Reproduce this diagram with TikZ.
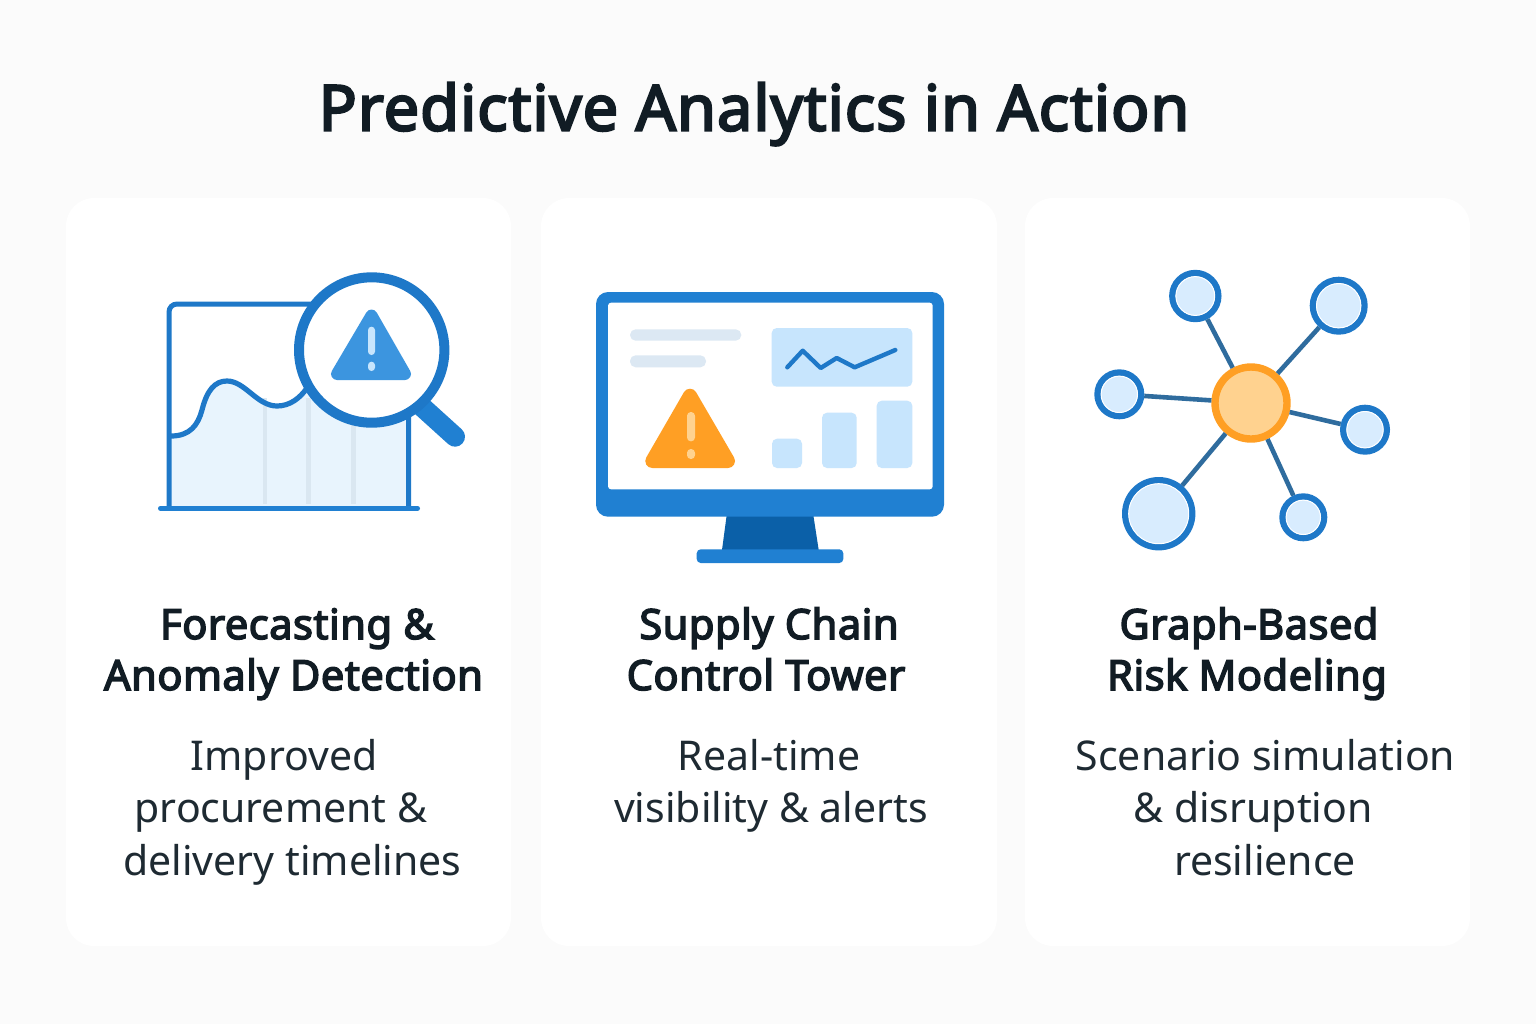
\documentclass[tikz,border=0pt]{standalone}
\usepackage{fontspec}
\setmainfont{Noto Sans}
\newfontfamily\titlefont{Noto Sans}[FakeBold=3.6,LetterSpace=1.5]
\newfontfamily\headfont{Noto Sans}[FakeBold=3.6,LetterSpace=1.2]
\definecolor{bgc}{HTML}{FBFBFB}
\definecolor{inkc}{HTML}{111C24}
\definecolor{bodyc}{HTML}{1E2A32}
\definecolor{bluec}{HTML}{2080D2}
\definecolor{lineblue}{HTML}{1E78C8}
\definecolor{darkblue}{HTML}{0B60A8}
\definecolor{midblue}{HTML}{3C95DF}
\definecolor{paleblue}{HTML}{C7E5FD}
\definecolor{areablue}{HTML}{E8F4FD}
\definecolor{gridc}{HTML}{DAE7F1}
\definecolor{barc}{HTML}{DCE8F3}
\definecolor{orangec}{HTML}{FF9F24}
\definecolor{paleorange}{HTML}{FFD28F}
\definecolor{edgec}{HTML}{2F6C9E}
\definecolor{nodefill}{HTML}{D8ECFE}
\tikzset{
  cardbox/.style={fill=white,rounded corners=14pt},
  titletext/.style={anchor=base,inner sep=0pt,text=inkc,font=\fontsize{31.6}{38}\titlefont},
  headtext/.style={anchor=base,inner sep=0pt,text=inkc,font=\fontsize{20.8}{25}\headfont},
  bodytext/.style={anchor=base,inner sep=0pt,text=bodyc,font=\fontsize{20.5}{25}\selectfont},
  leaf/.style={circle,inner sep=0pt,draw=lineblue,fill=nodefill,line width=3.2pt,minimum size=#1},
  hub/.style={circle,inner sep=0pt,draw=orangec,fill=paleorange,line width=3.7pt,minimum size=36pt},
  link/.style={draw=edgec,line width=2.3pt}
}
\begin{document}
\begin{tikzpicture}[x=0.5pt,y=-0.5pt]
\useasboundingbox (0,0) rectangle (1536,1024);
\fill[bgc] (0,0) rectangle (1536,1024);
% cards
\fill[cardbox] (66,198) rectangle (511,946);
\fill[cardbox] (541,198) rectangle (997,946);
\fill[cardbox] (1025,198) rectangle (1470,946);
% title
\node[titletext] (title) at (754,130.5) {Predictive Analytics in Action};

% --- icon 1: chart and magnifier
\fill[areablue] (171,436) .. controls (190,436) and (198,425) .. (202,410)
  .. controls (207,390) and (215,381) .. (227,381)
  .. controls (245,381) and (257,406) .. (277,406)
  .. controls (290,406) and (300,398) .. (307,388)
  -- (408,388) -- (408,506) -- (171,506) -- cycle;
\foreach \gx in {265,308.5,353.5}
  \draw[gridc,line width=2.2pt] (\gx,398) -- (\gx,504);
\draw[lineblue,line width=2.5pt,rounded corners=4pt] (408.7,508) -- (408.7,304) -- (169,304) -- (169,508);
\draw[lineblue,line width=2.6pt] (171,436) .. controls (190,436) and (198,425) .. (202,410)
  .. controls (207,390) and (215,381) .. (227,381)
  .. controls (245,381) and (257,406) .. (277,406)
  .. controls (290,406) and (300,398) .. (307,388);
\draw[bluec,line width=2.5pt,line cap=round] (160.5,508.3) -- (417.5,508.3);
\draw[bluec,line width=10pt,line cap=round] (420,405) -- (455,436.7);
\draw[lineblue,fill=white,line width=5pt] (371.7,350) circle (72.7);
\fill[midblue,draw=midblue,line width=6pt,line join=round] (371.5,315.5) -- (405,374) -- (337,374) -- cycle;
\fill[paleblue,rounded corners=1.7pt] (368,326.7) rectangle (375,355);
\fill[paleblue,rounded corners=1.7pt] (368,361.7) rectangle (375,371);

% --- icon 2: monitor
\fill[darkblue] (726.7,515) -- (813.3,515) -- (818.7,550) -- (722,550) -- cycle;
\fill[bluec,rounded corners=2pt] (696.7,563) -- (696.7,549.3) -- (843.3,549.3) -- (843.3,563) -- cycle;
\fill[bluec,rounded corners=6pt] (596,292) rectangle (944,516.7);
\fill[white,rounded corners=1.5pt] (608,302.7) rectangle (932.7,489.3);
\fill[barc,rounded corners=2.8pt] (630,329.3) rectangle (741.3,340.7);
\fill[barc,rounded corners=2.8pt] (630,355.3) rectangle (706,367.3);
\fill[paleblue,rounded corners=2.5pt] (771.7,328) rectangle (912.3,386.7);
\draw[lineblue,line width=2.2pt,line cap=round,line join=round] (787.3,367.3) -- (802.7,350.7) -- (820.7,368) -- (836.7,358) -- (854.7,367.3) -- (895.3,350);
\fill[paleblue,rounded corners=2.5pt] (772,438.7) rectangle (802,468);
\fill[paleblue,rounded corners=2.5pt] (822,412.7) rectangle (856.7,468);
\fill[paleblue,rounded corners=2.5pt] (876.7,400.7) rectangle (912.3,468);
\fill[orangec,draw=orangec,line width=7pt,line join=round] (690,395.7) -- (728,461) -- (652.3,461) -- cycle;
\fill[paleorange,rounded corners=1.9pt] (687,412) rectangle (695,441.3);
\fill[paleorange,rounded corners=1.9pt] (687,449) rectangle (695,459);

% --- icon 3: network
\node[hub] (c) at (1251,403) {};
\node[leaf=23pt] (n1) at (1195.3,296) {};
\node[leaf=25.8pt] (n2) at (1338.7,305.7) {};
\node[leaf=21.8pt] (n3) at (1119.3,394.3) {};
\node[leaf=21.8pt] (n4) at (1365,429.7) {};
\node[leaf=33.5pt] (n5) at (1158.7,513.7) {};
\node[leaf=20.8pt] (n6) at (1303.3,517.3) {};
\foreach \n/\r in {n1/19.4,n2/22.2,n3/18.2,n4/18.2,n5/30,n6/17.2}{
  \draw[link] (c) -- (\n);
  \draw[white,line width=0.5pt] (\n.center) circle (\r);
}

% --- labels
\node[headtext] (h1a) at (297,639) {Forecasting \&};
\node[headtext] (h1b) at (293.5,690) {Anomaly Detection};
\node[headtext] (h2a) at (769,639) {Supply Chain};
\node[headtext] (h2b) at (766,690) {Control Tower};
\node[headtext] (h3a) at (1249,639) {Graph-Based};
\node[headtext] (h3b) at (1247,690) {Risk Modeling};
\node[bodytext] (b1a) at (284,770.5) {Improved};
\node[bodytext] (b1b) at (281,822.5) {procurement \&};
\node[bodytext] (b1c) at (292.5,875) {delivery timelines};
\node[bodytext] (b2a) at (769,770.5) {Real-time};
\node[bodytext] (b2b) at (771,822.5) {visibility \& alerts};
\node[bodytext] (b3a) at (1265.5,770.5) {Scenario simulation};
\node[bodytext] (b3b) at (1253,822.5) {\& disruption};
\node[bodytext] (b3c) at (1265,875) {resilience};
\end{tikzpicture}
\end{document}
